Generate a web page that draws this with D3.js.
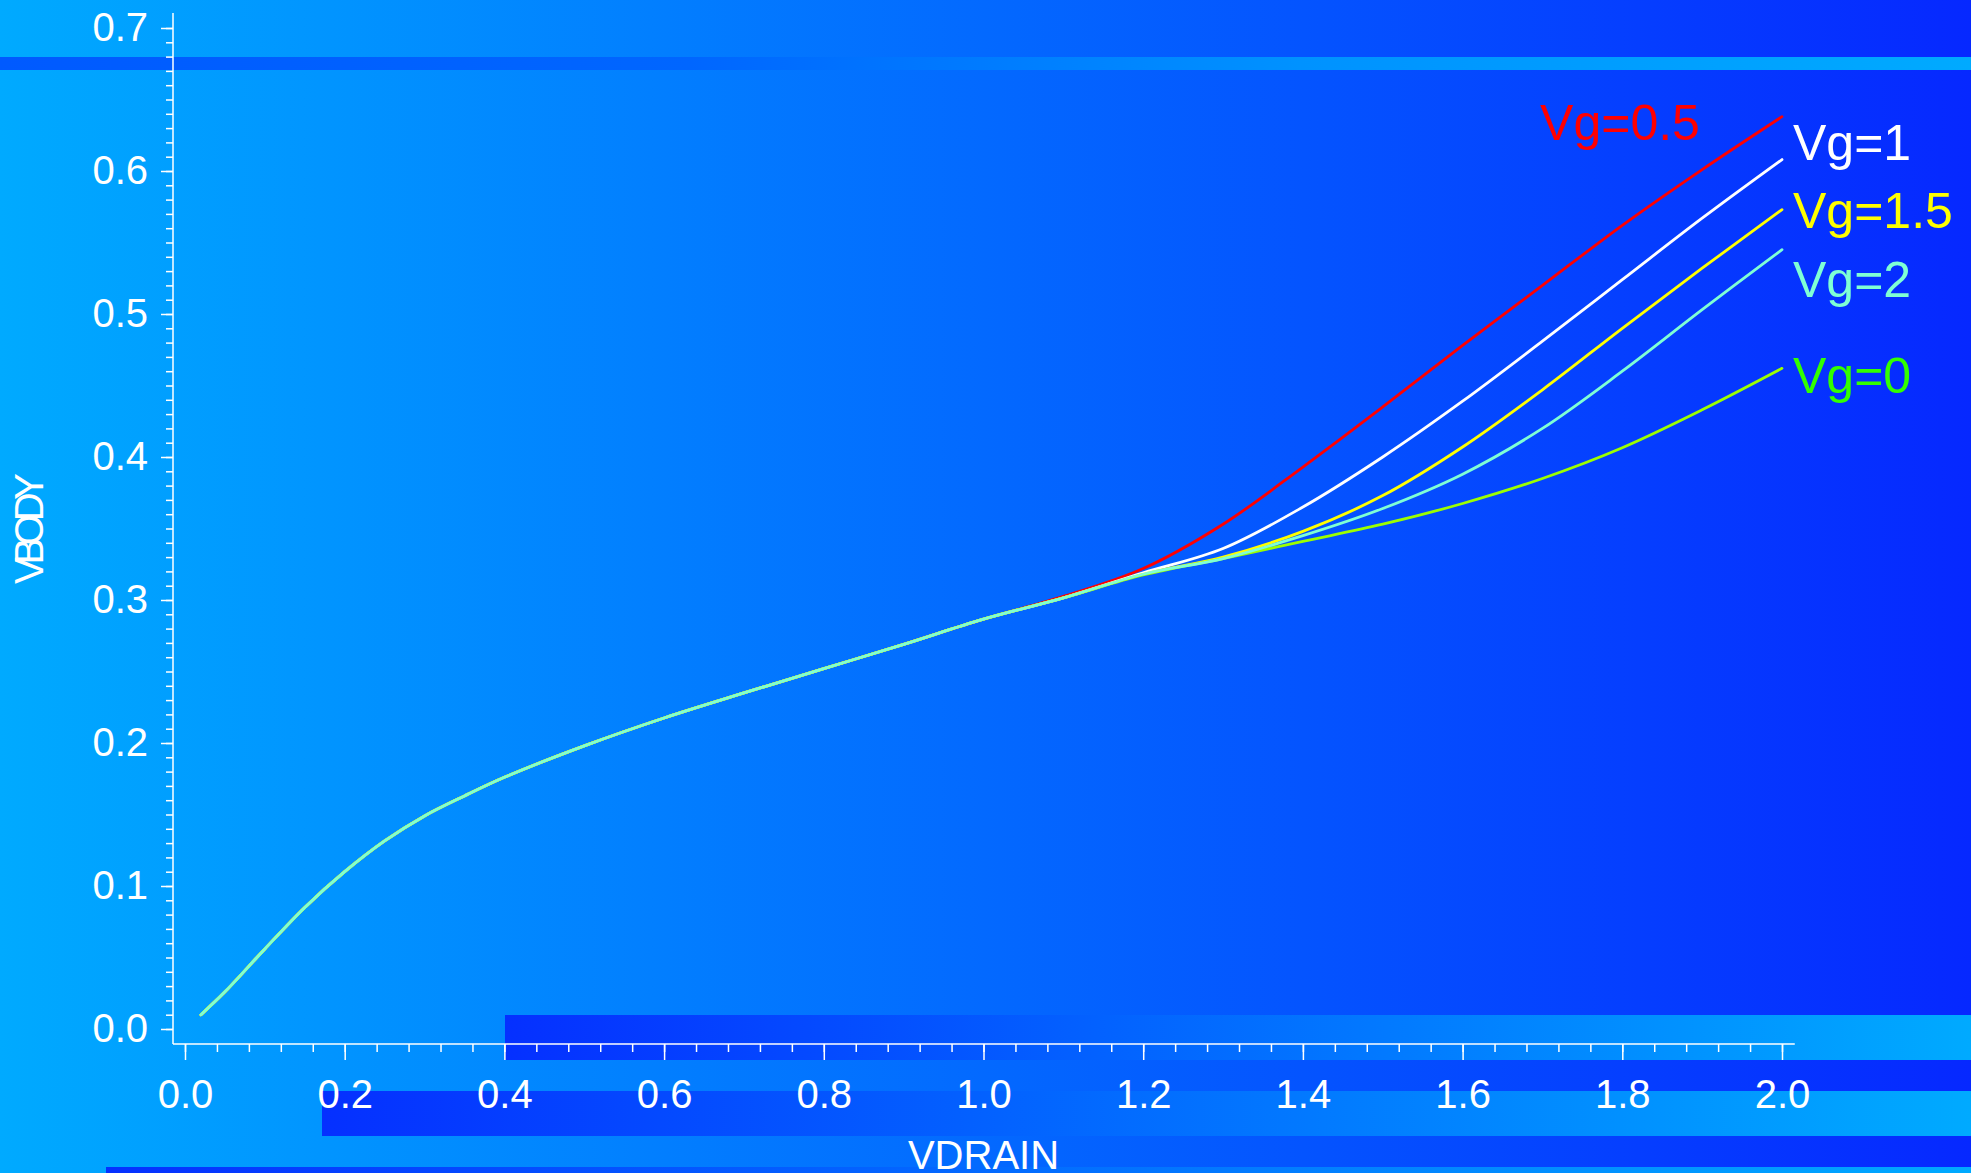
<!DOCTYPE html>
<html>
<head>
<meta charset="utf-8">
<script src="https://cdn.jsdelivr.net/npm/d3@7"></script>
<style>
  html, body { margin: 0; padding: 0; background: #0469ff; overflow: hidden; }
  svg { display: block; }
</style>
</head>
<body>
<svg id="chart" width="1971" height="1173"></svg>
<script>
// ---------------- data ----------------
const vdrain = [0.02, 0.05, 0.10, 0.15, 0.20, 0.25, 0.30, 0.35, 0.40, 0.50, 0.60, 0.70, 0.80, 0.90, 1.00,
                1.10, 1.20, 1.30, 1.40, 1.50, 1.60, 1.70, 1.80, 1.90, 2.00];
const vbodyVg05 = [0.010, 0.026, 0.056, 0.085, 0.110, 0.1315, 0.149, 0.163, 0.176, 0.198, 0.2175, 0.235, 0.252, 0.269, 0.2866,
                   0.3025, 0.322, 0.353, 0.393, 0.435, 0.478, 0.520, 0.562, 0.601, 0.638];
const vbodyVg1  = [0.010, 0.026, 0.056, 0.085, 0.110, 0.1315, 0.149, 0.163, 0.176, 0.198, 0.2175, 0.235, 0.252, 0.269, 0.2866,
                   0.3015, 0.319, 0.336, 0.365, 0.400, 0.439, 0.481, 0.524, 0.567, 0.608];
const vbodyVg15 = [0.010, 0.026, 0.056, 0.085, 0.110, 0.1315, 0.149, 0.163, 0.176, 0.198, 0.2175, 0.235, 0.252, 0.269, 0.2866,
                   0.3015, 0.318, 0.330, 0.348, 0.373, 0.407, 0.447, 0.490, 0.532, 0.573];
const vbodyVg2  = [0.010, 0.026, 0.056, 0.085, 0.110, 0.1315, 0.149, 0.163, 0.176, 0.198, 0.2175, 0.235, 0.252, 0.269, 0.2866,
                   0.3015, 0.318, 0.329, 0.345, 0.364, 0.388, 0.420, 0.460, 0.503, 0.545];
const vbodyVg0  = [0.010, 0.026, 0.056, 0.085, 0.110, 0.1315, 0.149, 0.163, 0.176, 0.198, 0.2175, 0.235, 0.252, 0.269, 0.2866,
                   0.3015, 0.3175, 0.329, 0.341, 0.353, 0.3675, 0.385, 0.4065, 0.433, 0.462];

const seriesNames  = ["Vg=0.5", "Vg=1", "Vg=1.5", "Vg=0", "Vg=2"];
const seriesValues = [vbodyVg05, vbodyVg1, vbodyVg15, vbodyVg0, vbodyVg2];
const lineColors   = ["#ff0000", "#ffffff", "#ffff00", "#9cff00", "#7fffd4"];
const labelColors  = ["#ff0000", "#ffffff", "#ffff00", "#33ff00", "#7fffd4"];
// label anchor (data coordinates: VDRAIN, VBODY of text baseline start)
const labelX = [1.697, 2.0, 2.0, 2.0, 2.0];
const labelY = [0.6217, 0.6077, 0.560, 0.4448, 0.512];

const xTicks = [0.0, 0.2, 0.4, 0.6, 0.8, 1.0, 1.2, 1.4, 1.6, 1.8, 2.0];
const yTicks = [0.0, 0.1, 0.2, 0.3, 0.4, 0.5, 0.6, 0.7];
const xTitle = "VDRAIN";
const yTitle = "VBODY";

// ---------------- layout ----------------
const W = 1971, H = 1173;
const svg = d3.select("#chart");
const FONT = "'Liberation Sans', Arial, Helvetica, sans-serif";

const x = d3.scaleLinear().domain([0, 2]).range([185, 1782]);
const y = d3.scaleLinear().domain([0, 0.7]).range([1029, 28]);

// ---------------- background ----------------
const defs = svg.append("defs");
function grad(id, stops) {
  const g = defs.append("linearGradient").attr("id", id)
    .attr("x1", 0).attr("y1", 0).attr("x2", 1).attr("y2", 0);
  stops.forEach(s => g.append("stop").attr("offset", s[0]).attr("stop-color", s[1]));
}
grad("bg", [[0, "#00aaff"], [1, "#0628ff"]]);
grad("bandTop", [[0, "#005aff"], [0.35, "#0066ff"], [0.66, "#0092ff"], [1, "#00aaff"]]);
grad("band", [[0, "#0530ff"], [1, "#00aaff"]]);

svg.append("rect").attr("x", 0).attr("y", 0).attr("width", W).attr("height", H).attr("fill", "url(#bg)");
svg.append("rect").attr("x", 0).attr("y", 57).attr("width", W).attr("height", 13).attr("fill", "url(#bandTop)");
svg.append("rect").attr("x", 505).attr("y", 1015).attr("width", W - 505).attr("height", 45).attr("fill", "url(#band)");
svg.append("rect").attr("x", 322).attr("y", 1091).attr("width", W - 322).attr("height", 45).attr("fill", "url(#band)");
svg.append("rect").attr("x", 106).attr("y", 1167).attr("width", W - 106).attr("height", 6).attr("fill", "url(#band)");

// ---------------- axes ----------------
const axisY0 = 1044, axisX0 = 173;
const g = svg.append("g");

// X axis minor ticks
const xMinor = d3.range(0, 2.0001, 0.04);
g.append("g").attr("transform", `translate(0,${axisY0})`)
  .call(d3.axisBottom(x).tickValues(xMinor).tickSize(8).tickFormat(""))
  .call(a => a.select(".domain").remove());
// X axis major ticks + labels
g.append("g").attr("transform", `translate(0,${axisY0})`)
  .call(d3.axisBottom(x).tickValues(xTicks).tickSize(16).tickPadding(19.6).tickFormat(d3.format(".1f")))
  .call(a => a.select(".domain").remove());

// Y axis minor ticks
const yMinor = d3.range(0, 0.70001, 0.01);
g.append("g").attr("transform", `translate(${axisX0},0)`)
  .call(d3.axisLeft(y).tickValues(yMinor).tickSize(7).tickFormat(""))
  .call(a => a.select(".domain").remove());
// Y axis major ticks + labels
g.append("g").attr("transform", `translate(${axisX0},0)`)
  .call(d3.axisLeft(y).tickValues(yTicks).tickSize(12).tickPadding(13).tickFormat(d3.format(".1f")))
  .call(a => a.select(".domain").remove());

g.selectAll(".tick line").attr("stroke", "#ffffff").attr("stroke-width", 1.5);
g.selectAll(".tick text").attr("fill", "#ffffff").style("font-family", FONT).style("font-size", "40px");

// axis lines
g.append("line").attr("x1", axisX0).attr("x2", x(2.016)).attr("y1", axisY0).attr("y2", axisY0)
  .attr("stroke", "#ffffff").attr("stroke-width", 1.5);
g.append("line").attr("x1", axisX0).attr("x2", axisX0).attr("y1", y(0.7105)).attr("y2", axisY0)
  .attr("stroke", "#ffffff").attr("stroke-width", 1.5);

// axis titles
svg.append("text").attr("x", x(1.0)).attr("y", 1169).attr("text-anchor", "middle")
  .attr("fill", "#ffffff").style("font-family", FONT).style("font-size", "40px").text(xTitle);
svg.append("text").attr("transform", `translate(43,${(y(0.7105) + axisY0) / 2}) rotate(-90)`)
  .attr("text-anchor", "middle").attr("textLength", 111).attr("lengthAdjust", "spacing")
  .attr("fill", "#ffffff").style("font-family", FONT).style("font-size", "40px").text(yTitle);

// ---------------- lines ----------------
const line = d3.line().x(d => x(d[0])).y(d => y(d[1])).curve(d3.curveCatmullRom.alpha(0.5));
seriesValues.forEach((vals, i) => {
  const pts = vdrain.map((v, j) => [v, vals[j]]);
  svg.append("path").datum(pts).attr("d", line)
    .attr("fill", "none").attr("stroke", lineColors[i]).attr("stroke-width", 2.8)
    .attr("stroke-linecap", "round").attr("stroke-linejoin", "round");
});

// ---------------- labels ----------------
seriesNames.forEach((name, i) => {
  svg.append("text")
    .attr("x", x(labelX[i]) + (labelX[i] >= 2 ? 11 : 0))
    .attr("y", y(labelY[i]))
    .attr("fill", labelColors[i]).style("font-family", FONT).style("font-size", "50px")
    .text(name);
});
</script>
</body>
</html>
